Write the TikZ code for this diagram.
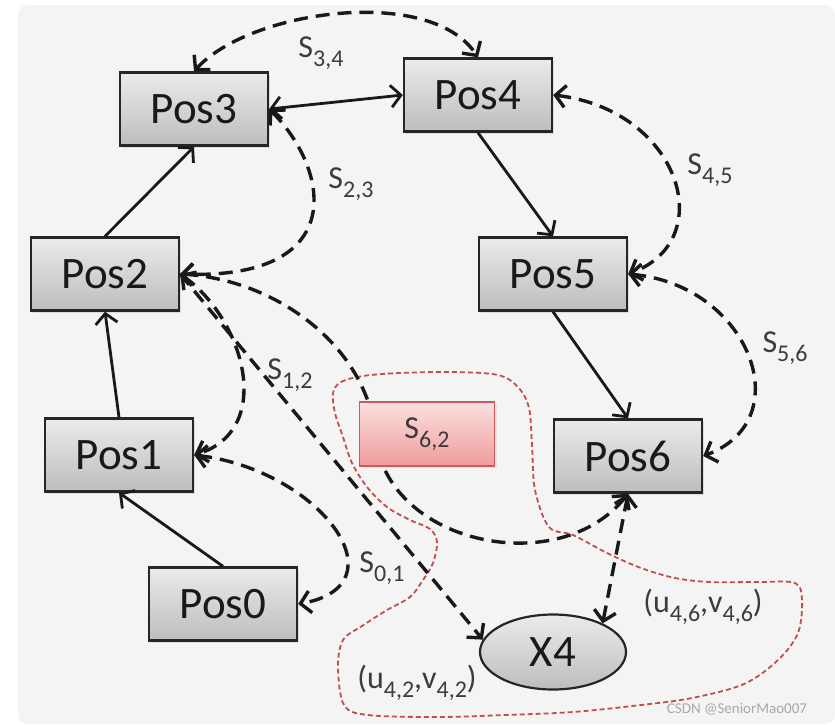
\documentclass[tikz,border=0pt]{standalone}
\usepackage{fontspec}
\setmainfont{Carlito}
\usetikzlibrary{arrows.meta,shapes.geometric,shadows}

\definecolor{bg}{HTML}{F4F4F4}
\definecolor{boxtop}{HTML}{EBEBEB}
\definecolor{boxbot}{HTML}{BDBDBD}
\definecolor{pinktop}{HTML}{FBE0E0}
\definecolor{pinkbot}{HTML}{F09C9C}
\definecolor{pinkdraw}{HTML}{CC5A5A}
\definecolor{redline}{HTML}{C0504D}
\definecolor{labelgray}{HTML}{3C3C3C}
\definecolor{wmgray}{HTML}{A8A8A8}

\newcommand\subs[1]{\raisebox{-0.3em}{\fontsize{24}{24}\selectfont #1}}

\begin{document}
\begin{tikzpicture}[x=1pt,y=-1pt,
  posbox/.style={draw=black!85, line width=2.4pt, top color=boxtop, bottom color=boxbot,
    minimum width=148pt, minimum height=73pt, inner sep=0pt,
    font=\fontsize{45}{45}\selectfont, text=black!90,
    drop shadow={shadow xshift=2pt, shadow yshift=-2pt, opacity=0.2}},
  sbox/.style={draw=pinkdraw, line width=1.5pt, top color=pinktop, bottom color=pinkbot,
    minimum width=135pt, minimum height=64pt, inner sep=0pt,
    font=\fontsize{32}{32}\selectfont, text=labelgray,
    drop shadow={shadow xshift=2pt, shadow yshift=-2pt, opacity=0.15}},
  xnode/.style={ellipse, draw=black!85, line width=2.2pt, top color=boxtop, bottom color=boxbot,
    minimum width=146pt, minimum height=75pt, inner sep=0pt,
    font=\fontsize{45}{45}\selectfont, text=black!90},
  lbl/.style={font=\fontsize{32}{32}\selectfont, text=labelgray, inner sep=0pt},
  tipv/.tip={Straight Barb[length=10pt,width=22pt]},
  solidarr/.style={line width=2.8pt, black!90, -tipv},
  dline/.style={line width=3.4pt, black!90, dash pattern=on 14pt off 8pt, tipv-tipv},
  dlineone/.style={line width=3.4pt, black!90, dash pattern=on 14pt off 8pt, -tipv},
  region/.style={draw=redline, line width=1.8pt, dash pattern=on 5pt off 3pt}
]
\useasboundingbox (0,0) rectangle (835,724);
\fill[bg, rounded corners=10pt] (18,5) rectangle (835,724);

% red dashed region
\draw[region] plot[smooth cycle, tension=0.55] coordinates {
 (333,393) (341,382) (363,376) (400,373) (454,372) (498,375) (518,387) (529,408)
 (532,445) (535,490) (549,527) (573,535) (607,553) (641,568) (675,578) (710,582)
 (760,582) (795,583) (802,600) (798,633) (778,660) (744,684) (692,698) (641,705)
 (573,712) (505,715) (437,717) (368,715) (344,705) (338,667) (343,640) (362,626)
 (387,610) (410,597) (423,580) (433,563) (437,542) (430,529) (410,520) (387,507)
 (367,487) (352,463) (343,437) (335,413)};

% nodes
\node[posbox] (P3) at (194,109) {Pos3};
\node[posbox] (P4) at (478,95) {Pos4};
\node[posbox] (P2) at (105,274) {Pos2};
\node[posbox] (P5) at (553,274) {Pos5};
\node[posbox] (P1) at (119,455) {Pos1};
\node[posbox] (P6) at (628,456) {Pos6};
\node[posbox] (P0) at (223,604) {Pos0};
\node[xnode] (X4) at (553,652) {X4};

% solid connectors
\draw[solidarr] (P0.north) -- (P1.south);
\draw[solidarr] (P1.north) -- (P2.south);
\draw[solidarr] (P2.north) -- (P3.south);
\draw[solidarr, tipv-tipv] (P3.east) -- (P4.west);
\draw[solidarr] (P4.south) -- (P5.north);
\draw[solidarr] (P5.south) -- (P6.north);

% dashed connectors
\draw[dline] (P3.north) .. controls (250,10) and (430,-15) .. (P4.north);
\draw[dline] (P3.east) .. controls (330,170) and (350,280) .. (P2.east);
\draw[dline] (P4.east) .. controls (680,110) and (720,240) .. (P5.east);
\draw[dline] (P5.east) .. controls (750,285) and (800,420) .. (P6.east);
\draw[dline] (P2.east) .. controls (245,320) and (275,430) .. (P1.east);
\draw[dline] (P1.east) .. controls (320,470) and (405,585) .. (P0.east);
\draw[dline] (P2.east) .. controls (280,280) and (370,350) .. (376,440)
   .. controls (390,545) and (560,580) .. (P6.south);
\draw[dlineone] (P2.east) -- (X4.170);
\draw[dline] (P6.south) -- (X4.30);

% S6,2 box on top
\node[sbox] (S62) at (427,434) {S\subs{6,2}};

% labels
\node[lbl] (L34) at (321,53) {S\subs{3,4}};
\node[lbl] (L23) at (351,184) {S\subs{2,3}};
\node[lbl] (L45) at (710,170) {S\subs{4,5}};
\node[lbl] (L56) at (785,348) {S\subs{5,6}};
\node[lbl] (L12) at (290,375) {S\subs{1,2}};
\node[lbl] (L01) at (382,568) {S\subs{0,1}};
\node[lbl] (U46) at (703,607) {(u\subs{4,6},v\subs{4,6})};
\node[lbl] (U42) at (417,683) {(u\subs{4,2},v\subs{4,2})};

\node[font=\fontsize{15}{15}\selectfont, text=wmgray, inner sep=0pt] (WM) at (737,709) {CSDN @SeniorMao007};
\end{tikzpicture}
\end{document}
